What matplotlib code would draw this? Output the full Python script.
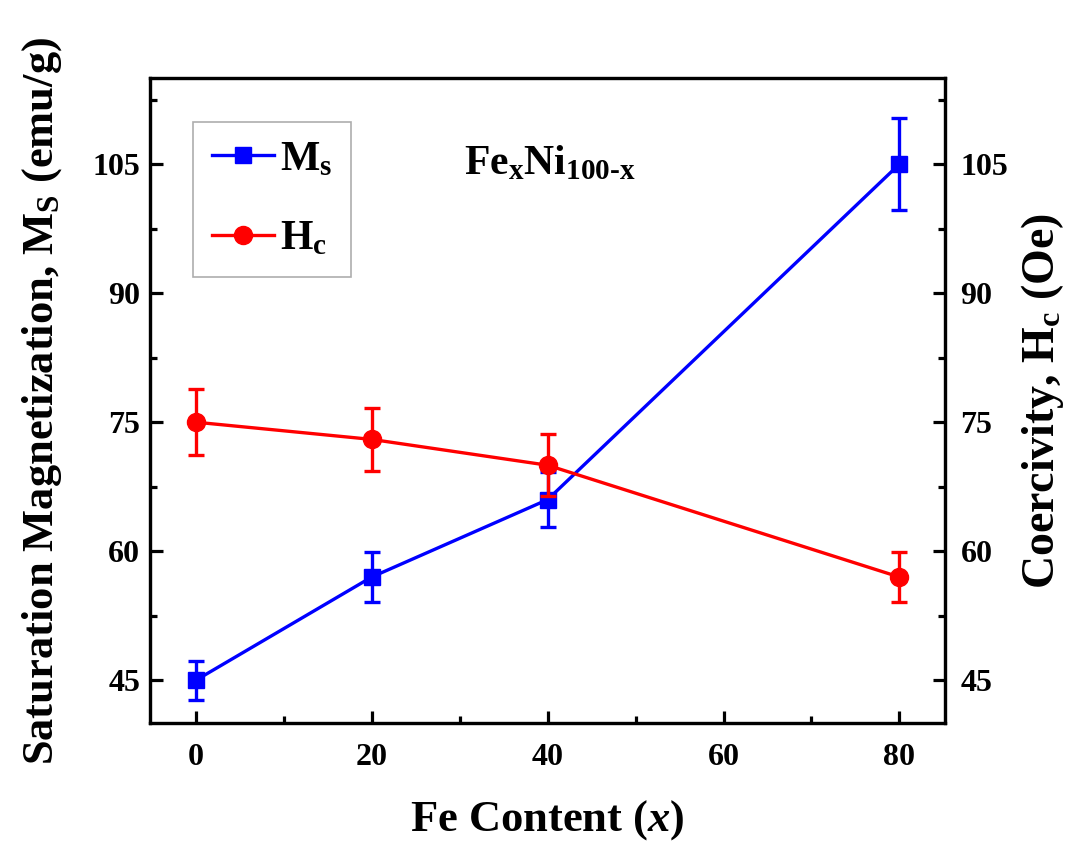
import matplotlib
matplotlib.use("Agg")
import matplotlib.pyplot as plt
from matplotlib.ticker import MultipleLocator
from matplotlib.lines import Line2D

plt.rcParams['font.family'] = ['Liberation Serif', 'DejaVu Serif']
plt.rcParams['font.weight'] = 'bold'
plt.rcParams['mathtext.fontset'] = 'custom'
plt.rcParams['mathtext.rm'] = 'Liberation Serif:bold'
plt.rcParams['mathtext.bf'] = 'Liberation Serif:bold'
plt.rcParams['mathtext.it'] = 'Liberation Serif:italic:bold'

fe_content = [0, 20, 40, 80]
ms_values = [45, 57, 66, 105]
ms_errors = [2.3, 2.9, 3.2, 5.3]
hc_values = [75, 73, 70, 57]
hc_errors = [3.8, 3.7, 3.6, 2.9]
x_ticks = [0, 20, 40, 60, 80]
y_ticks = [45, 60, 75, 90, 105]

fig = plt.figure(figsize=(10.79, 8.48), dpi=100)
ax = fig.add_axes([0.139, 0.147, 0.737, 0.761])
ax2 = ax.twinx()

blue = '#0000ff'
red = '#ff0000'
ax.errorbar(fe_content, ms_values, yerr=ms_errors, color=blue, marker='s', ms=11,
            lw=2.4, elinewidth=2.4, capsize=6, capthick=2.4, zorder=3)
ax2.errorbar(fe_content, hc_values, yerr=hc_errors, color=red, marker='o', ms=13,
             lw=2.4, elinewidth=2.4, capsize=6, capthick=2.4, zorder=3)

for a in (ax, ax2):
    a.set_xlim(-5.2, 85.2)
    a.set_ylim(40, 115)
    a.yaxis.set_major_locator(MultipleLocator(15))
    a.yaxis.set_minor_locator(MultipleLocator(7.5))
    for s in a.spines.values():
        s.set_linewidth(2.3)

ax.set_xticks(x_ticks)
ax.xaxis.set_minor_locator(MultipleLocator(10))
ax.tick_params(axis='both', which='both', direction='in', width=2.3, labelsize=23, top=False)
ax.tick_params(axis='x', pad=14)
ax.tick_params(axis='y', pad=7)
ax.tick_params(which='major', length=9)
ax.tick_params(which='minor', length=5)
ax2.tick_params(axis='y', which='both', direction='in', width=2.3, labelsize=23, pad=11)
ax2.tick_params(which='major', length=9)
ax2.tick_params(which='minor', length=5)
ax.set_yticks(y_ticks)
ax2.set_yticks(y_ticks)

ax.set_xlabel(r'Fe Content ($x$)', fontsize=32, fontweight='bold')
ax.xaxis.set_label_coords(0.5, -0.115)
ax.set_ylabel(r'Saturation Magnetization, $\mathrm{M_S}$ (emu/g)', fontsize=32, fontweight='bold')
ax.yaxis.set_label_coords(-0.108, 0.5)
ax2.set_ylabel(r'Coercivity, $\mathrm{H_c}$ (Oe)', fontsize=33, fontweight='bold', rotation=90)
ax2.yaxis.set_label_coords(1.093, 0.5)

ax.text(40.3, 105, r'$\mathrm{Fe_xNi_{100\text{-}x}}$', fontsize=30, ha='center', va='center')

handles = [Line2D([], [], color=blue, marker='s', ms=11, lw=2.4),
           Line2D([], [], color=red, marker='o', ms=13, lw=2.4)]
leg = ax.legend(handles, [r'$\mathrm{M_s}$', r'$\mathrm{H_c}$'], loc='upper left',
                bbox_to_anchor=(0.054, 0.932), fontsize=30, frameon=True, fancybox=False,
                edgecolor='#999999', handlelength=1.5, handletextpad=0.15, labelspacing=1.0,
                borderpad=0.45, borderaxespad=0)
leg.get_frame().set_linewidth(1.2)

fig.savefig('out.png', dpi=100)
